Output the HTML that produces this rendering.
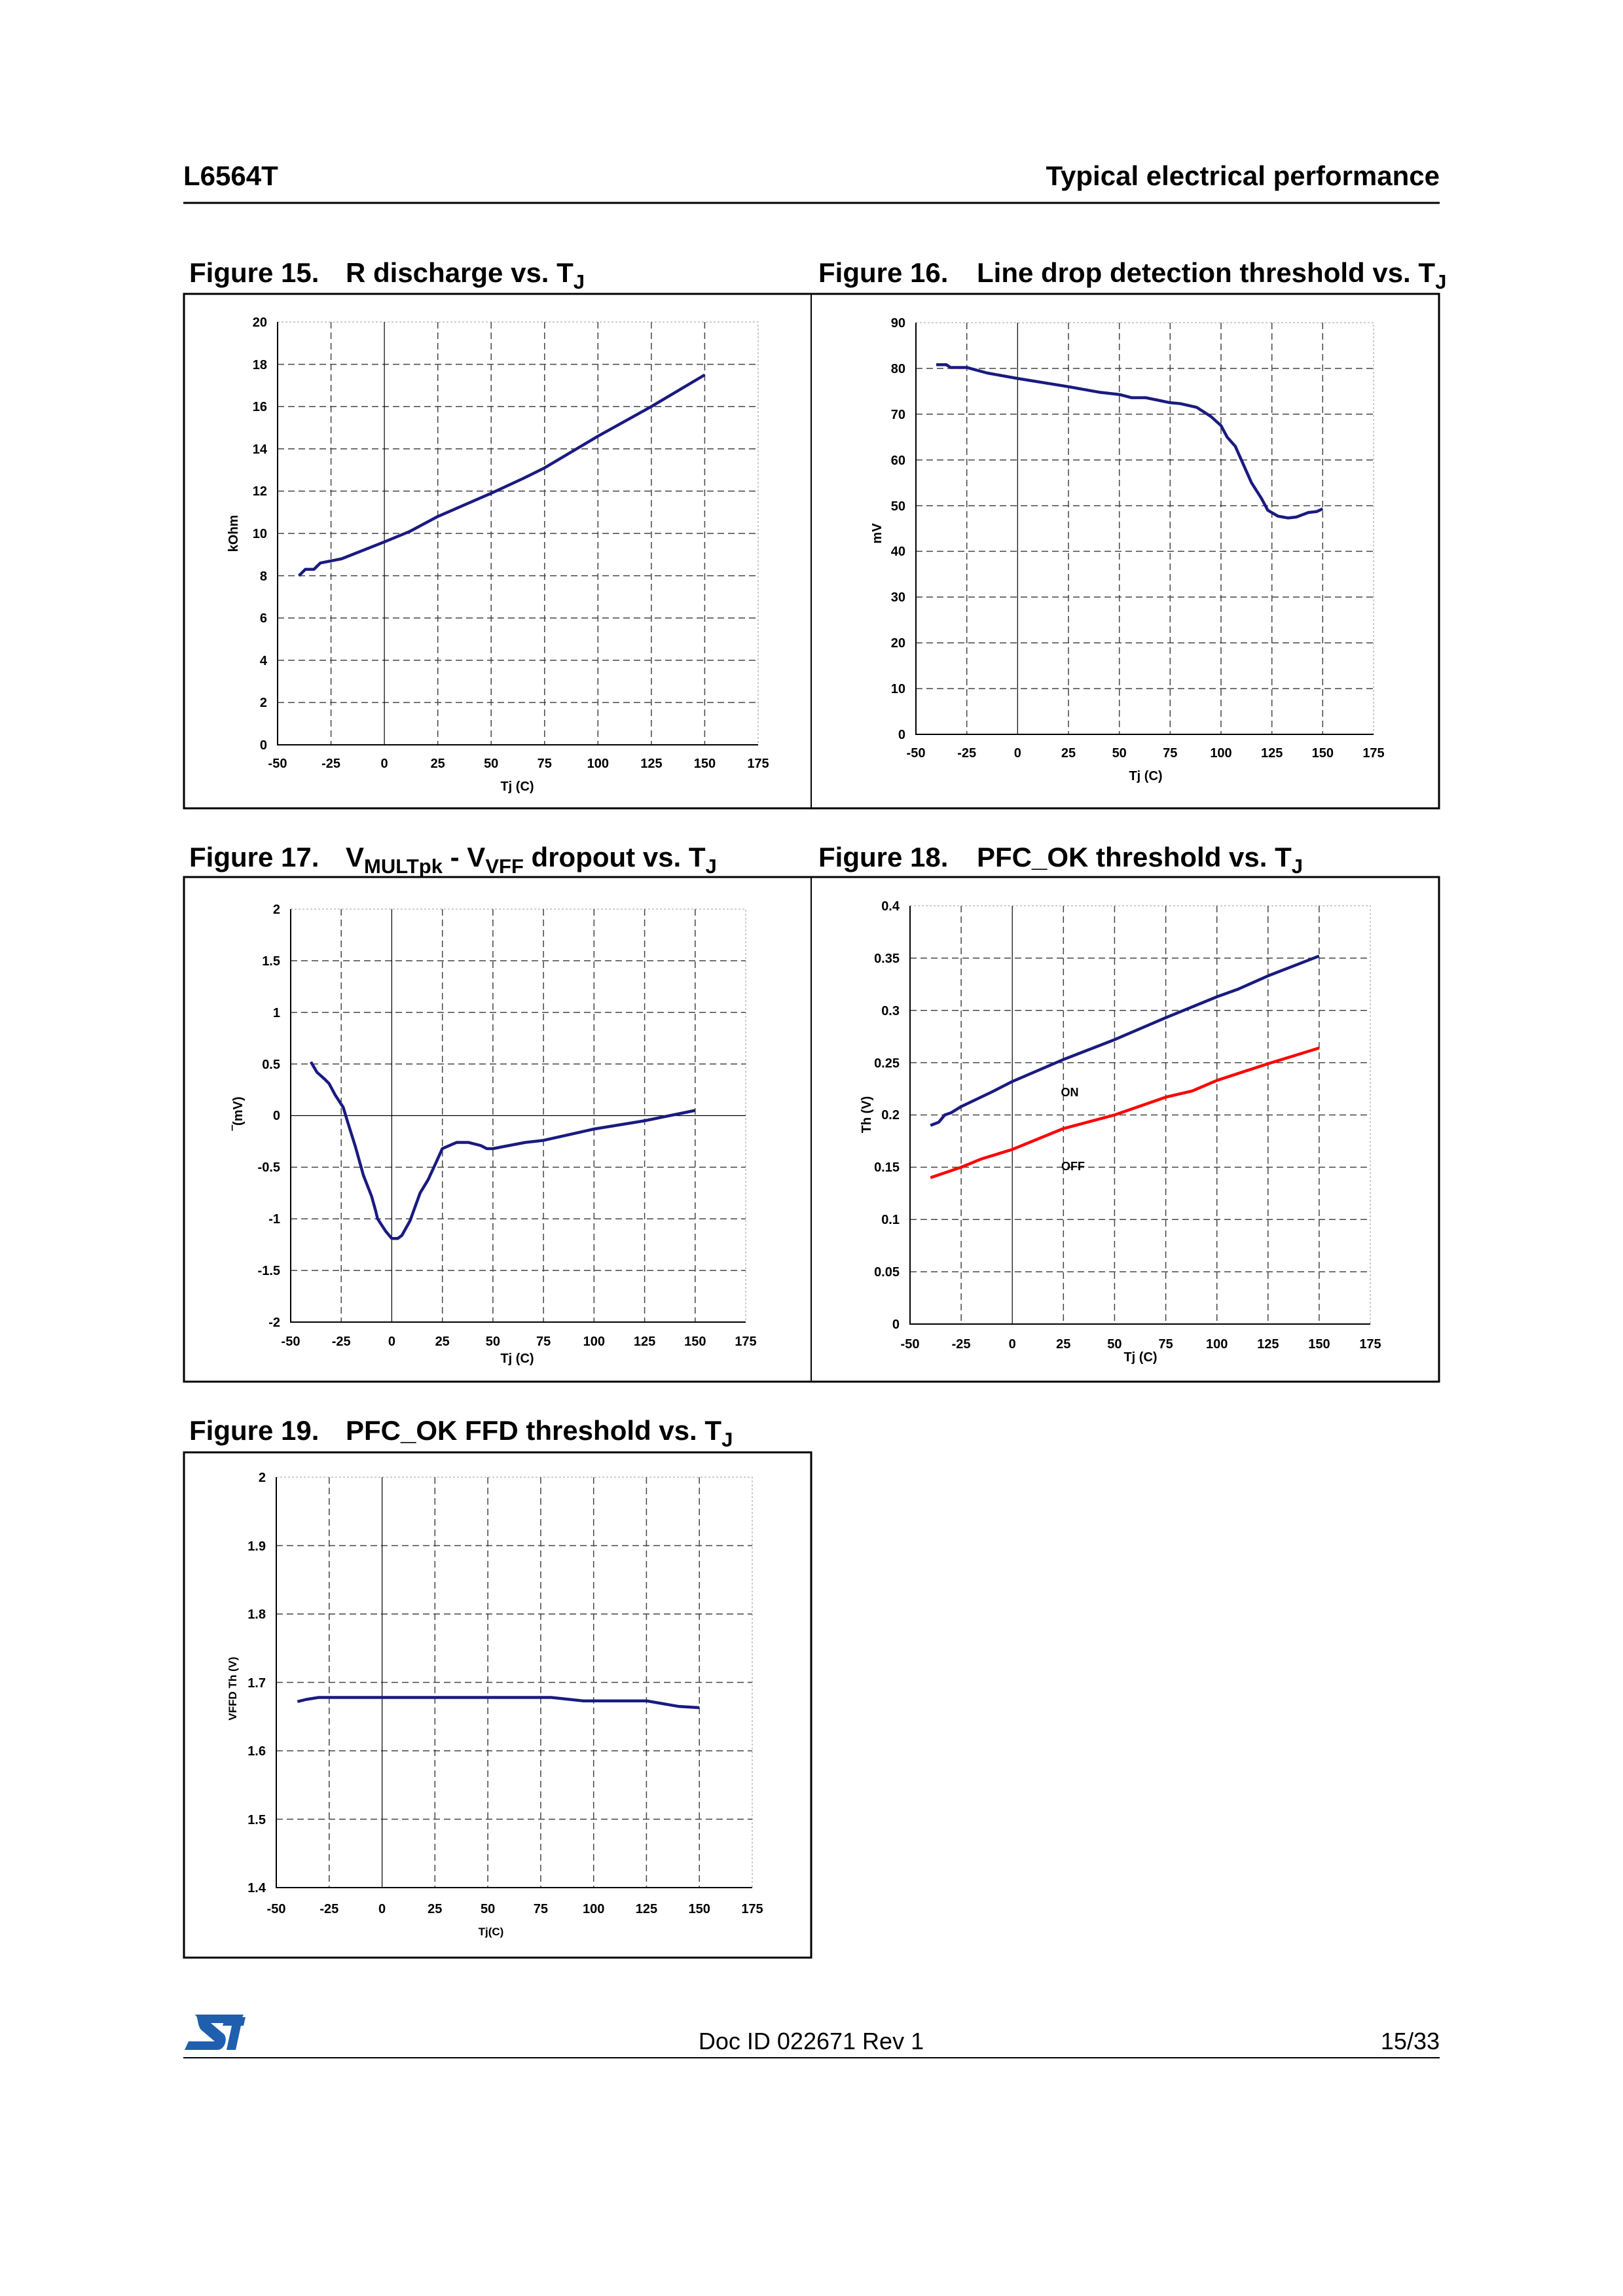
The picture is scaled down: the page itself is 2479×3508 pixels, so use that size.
<!DOCTYPE html>
<html><head><meta charset="utf-8"><style>
html,body{margin:0;padding:0;background:#fff}
svg{display:block}
text{font-family:"Liberation Sans",Arial,sans-serif}
.t{font-size:20px;font-weight:bold;fill:#000}
.g{stroke:#444;stroke-width:1.5;stroke-dasharray:10 6;fill:none}
.f{stroke:#bbb;stroke-width:1.5;stroke-dasharray:3 3;fill:none}
.a{stroke:#000;stroke-width:2;fill:none}
.z{stroke:#000;stroke-width:1.2;fill:none}
.s{stroke:#1a1a80;stroke-width:4.5;fill:none;vector-effect:non-scaling-stroke;stroke-linejoin:round}
.r{stroke:#ff0000;stroke-width:4.5;fill:none;vector-effect:non-scaling-stroke;stroke-linejoin:round}
.h{font-size:42px;font-weight:bold}
.ft{font-size:42px;font-weight:bold}
.sub{font-size:31px;font-weight:bold}
</style></head><body>
<svg width="2479" height="3508" viewBox="0 0 2479 3508" xmlns="http://www.w3.org/2000/svg">
<!-- header -->
<text x="280" y="283" class="h">L6564T</text>
<text x="2199" y="283" class="h" text-anchor="end">Typical electrical performance</text>
<line x1="280" y1="310" x2="2199" y2="310" stroke="#000" stroke-width="3"/>

<!-- titles -->
<text x="289" y="431" class="ft">Figure 15.</text>
<text x="528" y="431" class="ft">R discharge vs. T<tspan class="sub" dy="10">J</tspan></text>
<text x="1250" y="431" class="ft">Figure 16.</text>
<text x="1492" y="431" class="ft">Line drop detection threshold vs. T<tspan class="sub" dy="10">J</tspan></text>
<text x="289" y="1324" class="ft">Figure 17.</text>
<text x="528" y="1324" class="ft">V<tspan class="sub" dy="10">MULTpk</tspan><tspan dy="-10"> - V</tspan><tspan class="sub" dy="10">VFF</tspan><tspan dy="-10"> dropout vs. T</tspan><tspan class="sub" dy="10">J</tspan></text>
<text x="1250" y="1324" class="ft">Figure 18.</text>
<text x="1492" y="1324" class="ft">PFC_OK threshold vs. T<tspan class="sub" dy="10">J</tspan></text>
<text x="289" y="2200" class="ft">Figure 19.</text>
<text x="528" y="2200" class="ft">PFC_OK FFD threshold vs. T<tspan class="sub" dy="10">J</tspan></text>

<!-- boxes -->
<rect x="281" y="449" width="1917" height="786" fill="none" stroke="#000" stroke-width="3"/>
<line x1="1239" y1="449" x2="1239" y2="1235" stroke="#000" stroke-width="2"/>
<rect x="281" y="1340" width="1917" height="771" fill="none" stroke="#000" stroke-width="3"/>
<line x1="1239" y1="1340" x2="1239" y2="2111" stroke="#000" stroke-width="2"/>
<rect x="281" y="2219" width="958" height="772" fill="none" stroke="#000" stroke-width="3"/>

<!-- ===== Fig 15 ===== -->
<path class="f" d="M424 492H1158V1138"/>
<path class="g" d="M505.6 492V1138M668.7 492V1138M750.2 492V1138M831.8 492V1138M913.3 492V1138M994.9 492V1138M1076.4 492V1138
M424 1073.4H1158M424 1008.8H1158M424 944.2H1158M424 879.6H1158M424 815H1158M424 750.4H1158M424 685.8H1158M424 621.2H1158M424 556.6H1158"/>
<path class="z" d="M587.1 492V1138"/>
<path class="a" d="M424 492V1138H1158"/>
<g class="t" text-anchor="end">
<text x="408" y="1145">0</text><text x="408" y="1080">2</text><text x="408" y="1016">4</text><text x="408" y="951">6</text><text x="408" y="887">8</text><text x="408" y="822">10</text><text x="408" y="757">12</text><text x="408" y="693">14</text><text x="408" y="628">16</text><text x="408" y="564">18</text><text x="408" y="499">20</text></g>
<g class="t" text-anchor="middle">
<text x="424" y="1173">-50</text><text x="505.6" y="1173">-25</text><text x="587.1" y="1173">0</text><text x="668.7" y="1173">25</text><text x="750.2" y="1173">50</text><text x="831.8" y="1173">75</text><text x="913.3" y="1173">100</text><text x="994.9" y="1173">125</text><text x="1076.4" y="1173">150</text><text x="1158" y="1173">175</text>
<text x="790" y="1208">Tj (C)</text>
<text transform="translate(363 815) rotate(-90)">kOhm</text></g>
<g transform="translate(587.1 1138) scale(3.262 -32.3)">
<polyline class="s" points="-40,8 -37,8.3 -33,8.3 -30,8.6 -20,8.8 0,9.6 12,10.1 25,10.8 50,11.9 65,12.6 75,13.1 90,14 100,14.6 125,16 150,17.5"/></g>

<!-- ===== Fig 16 ===== -->
<path class="f" d="M1399 493H2098V1122"/>
<path class="g" d="M1476.7 493V1122M1632 493V1122M1709.7 493V1122M1787.3 493V1122M1865 493V1122M1942.7 493V1122M2020.3 493V1122
M1399 1052.1H2098M1399 982.2H2098M1399 912.3H2098M1399 842.4H2098M1399 772.6H2098M1399 702.7H2098M1399 632.8H2098M1399 562.9H2098"/>
<path class="z" d="M1554.3 493V1122"/>
<path class="a" d="M1399 493V1122H2098"/>
<g class="t" text-anchor="end">
<text x="1383" y="1129">0</text><text x="1383" y="1059">10</text><text x="1383" y="989">20</text><text x="1383" y="919">30</text><text x="1383" y="849">40</text><text x="1383" y="780">50</text><text x="1383" y="710">60</text><text x="1383" y="640">70</text><text x="1383" y="570">80</text><text x="1383" y="500">90</text></g>
<g class="t" text-anchor="middle">
<text x="1399" y="1157">-50</text><text x="1476.7" y="1157">-25</text><text x="1554.3" y="1157">0</text><text x="1632" y="1157">25</text><text x="1709.7" y="1157">50</text><text x="1787.3" y="1157">75</text><text x="1865" y="1157">100</text><text x="1942.7" y="1157">125</text><text x="2020.3" y="1157">150</text><text x="2098" y="1157">175</text>
<text x="1750" y="1192">Tj (C)</text>
<text transform="translate(1346 815) rotate(-90)">mV</text></g>
<g transform="translate(1554.3 1122) scale(3.1067 -6.989)">
<polyline class="s" points="-40,80.8 -35,80.8 -33,80.2 -25,80.2 -15,79 0,77.8 25,76 40,74.8 50,74.3 56,73.6 63,73.6 75,72.5 80,72.3 88,71.5 95,69.5 100,67.5 103,65 107,63 111,59 115,55 120,51.5 123,49 128,47.7 133,47.3 137,47.5 143,48.5 147,48.7 150,49.3"/></g>

<!-- ===== Fig 17 ===== -->
<path class="f" d="M444 1389H1139V2020"/>
<path class="g" d="M521.2 1389V2020M675.7 1389V2020M752.9 1389V2020M830.1 1389V2020M907.3 1389V2020M984.6 1389V2020M1061.8 1389V2020
M444 1467.9H1139M444 1546.8H1139M444 1625.6H1139M444 1783.4H1139M444 1862.3H1139M444 1941.1H1139"/>
<path class="z" d="M598.4 1389V2020M444 1704.5H1139"/>
<path class="a" d="M444 1389V2020H1139"/>
<g class="t" text-anchor="end">
<text x="428" y="2027">-2</text><text x="428" y="1948">-1.5</text><text x="428" y="1869">-1</text><text x="428" y="1790">-0.5</text><text x="428" y="1711">0</text><text x="428" y="1633">0.5</text><text x="428" y="1554">1</text><text x="428" y="1475">1.5</text><text x="428" y="1396">2</text></g>
<g class="t" text-anchor="middle">
<text x="444" y="2056">-50</text><text x="521.2" y="2056">-25</text><text x="598.4" y="2056">0</text><text x="675.7" y="2056">25</text><text x="752.9" y="2056">50</text><text x="830.1" y="2056">75</text><text x="907.3" y="2056">100</text><text x="984.6" y="2056">125</text><text x="1061.8" y="2056">150</text><text x="1139" y="2056">175</text>
<text x="790" y="2082">Tj (C)</text>
<text transform="translate(370 1701) rotate(-90)">‾(mV)</text></g>
<g transform="translate(598.4 1704.5) scale(3.089 -157.75)">
<polyline class="s" points="-40,0.52 -37,0.42 -33,0.35 -31,0.31 -28,0.2 -24,0.08 -22,-0.05 -18,-0.3 -14,-0.58 -10,-0.78 -8,-0.92 -7,-1 -3,-1.12 0,-1.19 3,-1.19 5,-1.16 9,-1.02 14,-0.75 18,-0.62 22,-0.45 25,-0.32 32,-0.26 38,-0.26 44,-0.29 47,-0.32 50,-0.32 66,-0.26 75,-0.24 100,-0.13 125,-0.05 150,0.05"/></g>

<!-- ===== Fig 18 ===== -->
<path class="f" d="M1390 1384H2093V2023"/>
<path class="g" d="M1468.1 1384V2023M1624.3 1384V2023M1702.4 1384V2023M1780.6 1384V2023M1858.7 1384V2023M1936.8 1384V2023M2014.9 1384V2023
M1390 1463.9H2093M1390 1543.8H2093M1390 1623.6H2093M1390 1703.5H2093M1390 1783.4H2093M1390 1863.3H2093M1390 1943.1H2093"/>
<path class="z" d="M1546.2 1384V2023"/>
<path class="a" d="M1390 1384V2023H2093"/>
<g class="t" text-anchor="end">
<text x="1374" y="2030">0</text><text x="1374" y="1950">0.05</text><text x="1374" y="1870">0.1</text><text x="1374" y="1790">0.15</text><text x="1374" y="1710">0.2</text><text x="1374" y="1631">0.25</text><text x="1374" y="1551">0.3</text><text x="1374" y="1471">0.35</text><text x="1374" y="1391">0.4</text></g>
<g class="t" text-anchor="middle">
<text x="1390" y="2060">-50</text><text x="1468.1" y="2060">-25</text><text x="1546.2" y="2060">0</text><text x="1624.3" y="2060">25</text><text x="1702.4" y="2060">50</text><text x="1780.6" y="2060">75</text><text x="1858.7" y="2060">100</text><text x="1936.8" y="2060">125</text><text x="2014.9" y="2060">150</text><text x="2093" y="2060">175</text>
<text x="1742" y="2080">Tj (C)</text>
<text transform="translate(1330 1703) rotate(-90)">Th (V)</text>
<text x="1634" y="1675" style="font-size:18px">ON</text>
<text x="1639" y="1788" style="font-size:18px">OFF</text></g>
<g transform="translate(1546.2 2023) scale(3.1244 -1597.5)">
<polyline class="s" points="-40,0.19 -36,0.193 -33,0.2 -30,0.202 -25,0.208 -10,0.222 0,0.232 25,0.253 50,0.272 75,0.293 100,0.313 110,0.32 125,0.333 150,0.352"/>
<polyline class="r" points="-40,0.14 -25,0.15 -15,0.158 0,0.167 25,0.187 50,0.2 75,0.217 88,0.223 100,0.233 125,0.249 150,0.264"/></g>

<!-- ===== Fig 19 ===== -->
<path class="f" d="M422 2257H1149V2884"/>
<path class="g" d="M502.8 2257V2884M664.3 2257V2884M745.1 2257V2884M825.9 2257V2884M906.7 2257V2884M987.4 2257V2884M1068.2 2257V2884
M422 2361.5H1149M422 2466H1149M422 2570.5H1149M422 2675H1149M422 2779.5H1149"/>
<path class="z" d="M583.6 2257V2884"/>
<path class="a" d="M422 2257V2884H1149"/>
<g class="t" text-anchor="end">
<text x="406" y="2891">1.4</text><text x="406" y="2787">1.5</text><text x="406" y="2682">1.6</text><text x="406" y="2578">1.7</text><text x="406" y="2473">1.8</text><text x="406" y="2369">1.9</text><text x="406" y="2264">2</text></g>
<g class="t" text-anchor="middle">
<text x="422" y="2923">-50</text><text x="502.8" y="2923">-25</text><text x="583.6" y="2923">0</text><text x="664.3" y="2923">25</text><text x="745.1" y="2923">50</text><text x="825.9" y="2923">75</text><text x="906.7" y="2923">100</text><text x="987.4" y="2923">125</text><text x="1068.2" y="2923">150</text><text x="1149" y="2923">175</text>
<text x="750" y="2957" style="font-size:17px">Tj(C)</text>
<text transform="translate(361 2580) rotate(-90)" style="font-size:17px">VFFD Th (V)</text></g>
<g transform="translate(583.6 2884) scale(3.231 -1045)">
<polyline class="s" points="-40,0.272 -36,0.275 -30,0.278 80,0.278 95,0.273 125,0.273 140,0.265 150,0.263"/></g>

<!-- footer -->
<g transform="translate(282 3078)">
<path d="M14 0H90L84 13H40L60 30C66 36 62 54 50 54H0L6 41H46L26 24C18 17 22 0 14 0Z" fill="#1f5fae"/>
<path d="M58 17H72L64 54H78L86 17H90L93 4H62Z" fill="#1f5fae"/>
</g>
<text x="1239" y="3131" text-anchor="middle" style="font-size:36px">Doc ID 022671 Rev 1</text>
<text x="2199" y="3131" text-anchor="end" style="font-size:36px">15/33</text>
<line x1="280" y1="3144" x2="2199" y2="3144" stroke="#000" stroke-width="2"/>
</svg>
</body></html>
